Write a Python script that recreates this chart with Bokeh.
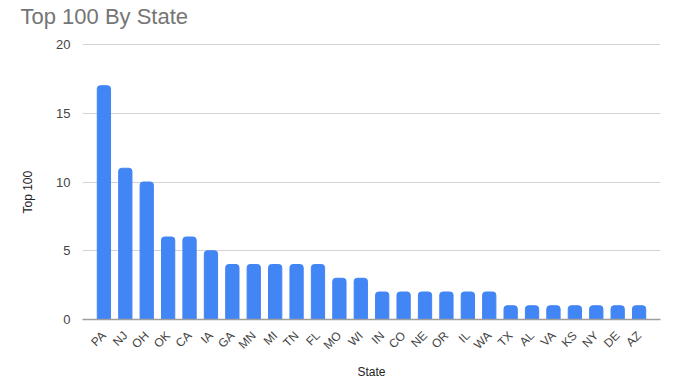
import math
from bokeh.plotting import figure
from bokeh.models import FactorRange, Range1d, FixedTicker, ColumnDataSource, Title
from bokeh.embed import file_html
from bokeh.resources import INLINE

states = ["PA", "NJ", "OH", "OK", "CA", "IA", "GA", "MN", "MI", "TN", "FL", "MO", "WI",
          "IN", "CO", "NE", "OR", "IL", "WA", "TX", "AL", "VA", "KS", "NY", "DE", "AZ"]
counts = [17, 11, 10, 6, 6, 5, 4, 4, 4, 4, 4, 3, 3,
          2, 2, 2, 2, 2, 2, 1, 1, 1, 1, 1, 1, 1]
y_ticks = [0, 5, 10, 15, 20]
title_text = "Top 100 By State"
x_label = "State"
y_label = "Top 100"

FONT = "Liberation Sans"

src = ColumnDataSource(dict(state=states, count=counts))

p = figure(frame_width=578, frame_height=276, output_backend="svg", toolbar_location=None,
           x_range=FactorRange(*states, range_padding=0.5, range_padding_units="absolute"),
           y_range=Range1d(0, 20.073),
           min_border_left=82, min_border_right=20, min_border_bottom=62, min_border_top=58)
try:
    p.margin = (-15, 0, 0, 0)
except Exception:
    pass

p.vbar(x="state", top="count", width=0.62, source=src, color="#4285F4",
       border_radius=(3, 3, 0, 0))

p.title.text = title_text
p.title.text_font = FONT
p.title.text_font_size = "22px"
p.title.text_font_style = "normal"
p.title.text_color = "#757575"
p.title.offset = -62
p.title.standoff = 30

p.add_layout(Title(text=y_label, align="left", offset=106, text_font=FONT,
                   text_font_size="12px", text_font_style="normal",
                   text_color="#222222", standoff=37), "left")

p.outline_line_color = None
p.background_fill_color = "white"
p.border_fill_color = "white"

p.xgrid.grid_line_color = None
p.ygrid.grid_line_color = "#d4d4d4"
p.ygrid.grid_line_width = 1

p.yaxis.ticker = FixedTicker(ticks=y_ticks)
p.yaxis.axis_line_color = None
p.yaxis.major_tick_line_color = None
p.yaxis.minor_tick_line_color = None
p.yaxis.major_label_standoff = 6
p.yaxis.major_label_text_font = FONT
p.yaxis.major_label_text_font_size = "13px"
p.yaxis.major_label_text_color = "#444444"

p.xaxis.axis_line_color = "#9e9e9e"
p.xaxis.axis_line_width = 1.5
p.xaxis.major_tick_line_color = None
p.xaxis.minor_tick_line_color = None
p.xaxis.major_label_orientation = math.pi / 4
p.xaxis.major_label_standoff = 8
p.xaxis.major_label_text_font = FONT
p.xaxis.major_label_text_font_size = "12px"
p.xaxis.major_label_text_color = "#444444"
p.xaxis.axis_label = x_label
p.xaxis.axis_label_text_font = FONT
p.xaxis.axis_label_text_font_size = "12px"
p.xaxis.axis_label_text_font_style = "normal"
p.xaxis.axis_label_text_color = "#222222"
p.xaxis.axis_label_standoff = 5

open("out.html", "w").write(file_html(p, INLINE))
